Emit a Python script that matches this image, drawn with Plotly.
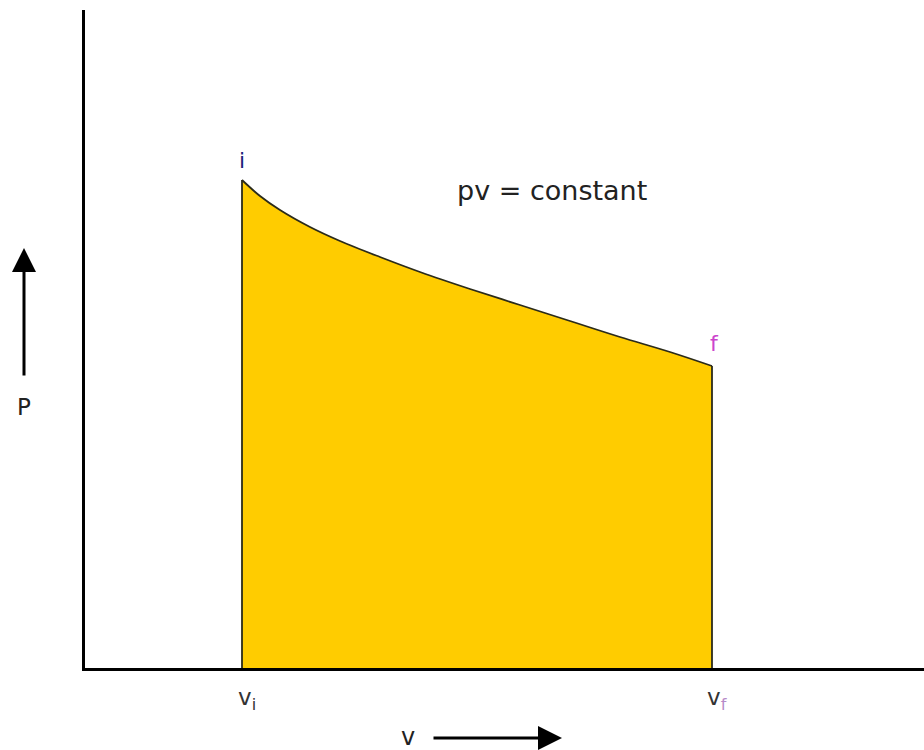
import plotly.graph_objects as go

# Data (arbitrary units)
v_i = 1.57
v_f = 6.27
curve_v = [1.57, 1.75, 1.95, 2.25, 2.55, 2.95, 3.35, 3.85, 4.35, 4.85, 5.35, 5.85, 6.27]
curve_p = [4.88, 4.72, 4.58, 4.41, 4.27, 4.11, 3.96, 3.79, 3.63, 3.47, 3.31, 3.16, 3.02]
x_range = [0, 8.39]
y_range = [0, 6.58]
tick_vals = [v_i, v_f]
tick_texts = ["v<sub>i</sub>", "v<sub><span style='color:#b68ac8'>f</span></sub>"]

FONT = "DejaVu Sans"
fig = go.Figure()

# filled area under curve
fig.add_trace(go.Scatter(
    x=curve_v, y=curve_p, mode="lines", line=dict(color="#2b2b1a", width=1.8, shape="spline"),
    fill="tozeroy", fillcolor="#FFCC00", hoverinfo="skip", showlegend=False))
# vertical edges
fig.add_trace(go.Scatter(
    x=[v_i, v_i, None, v_f, v_f], y=[0, curve_p[0], None, 0, curve_p[-1]],
    mode="lines", line=dict(color="#2b2b1a", width=1.8), hoverinfo="skip", showlegend=False))

W, H = 924, 750
L, R, T, B = 85, 0, 10, 82
ph = H - T - B
pw = W - L - R

def px(xp):
    return (xp - L) / pw

def py(yp):
    return (H - B - yp) / ph

ann = []
# point labels
ann.append(dict(x=v_i, y=5.08, xref="x", yref="y", text="i", showarrow=False,
                font=dict(family=FONT, size=22, color="#1c1c7a")))
ann.append(dict(x=curve_v[-1] + 0.02, y=3.25, xref="x", yref="y", text="f", showarrow=False,
                font=dict(family=FONT, size=22, color="#cc44cc")))
ann.append(dict(x=4.67, y=4.78, xref="x", yref="y", text="pv = constant", showarrow=False,
                font=dict(family=FONT, size=27, color="#222222")))
# tick labels
for tv, tt in zip(tick_vals, tick_texts):
    ann.append(dict(x=tv + 0.05, y=py(699), xref="x", yref="paper", text=tt, showarrow=False,
                    xanchor="center", yanchor="middle",
                    font=dict(family=FONT, size=23, color="#333333")))
# axis titles
ann.append(dict(x=px(24), y=py(407), xref="paper", yref="paper", text="P", showarrow=False,
                xanchor="center", yanchor="middle",
                font=dict(family=FONT, size=23, color="#222222")))
ann.append(dict(x=px(408), y=py(737), xref="paper", yref="paper", text="v", showarrow=False,
                xanchor="center", yanchor="middle",
                font=dict(family=FONT, size=24, color="#222222")))
# arrows
ann.append(dict(x=px(24), y=py(248), xref="paper", yref="paper", text="", showarrow=True,
                ax=0, ay=129, arrowhead=2, arrowsize=1.6, arrowwidth=3, arrowcolor="#000000"))
ann.append(dict(x=px(562), y=py(738), xref="paper", yref="paper", text="", showarrow=True,
                ax=-130, ay=0, arrowhead=2, arrowsize=1.6, arrowwidth=3, arrowcolor="#000000"))

fig.update_layout(
    width=W, height=H, autosize=False,
    margin=dict(l=L, r=R, t=T, b=B),
    paper_bgcolor="white", plot_bgcolor="white",
    xaxis=dict(range=x_range, showgrid=False, zeroline=False, showticklabels=False, ticks="",
               showline=True, linecolor="black", linewidth=3, fixedrange=True),
    yaxis=dict(range=y_range, showgrid=False, zeroline=False, showticklabels=False, ticks="",
               showline=True, linecolor="black", linewidth=3, fixedrange=True),
    annotations=ann,
    showlegend=False,
)

fig.write_html("out.html", config={"displayModeBar": False},
               post_script="document.body.style.margin='0';document.body.style.overflow='hidden';")
